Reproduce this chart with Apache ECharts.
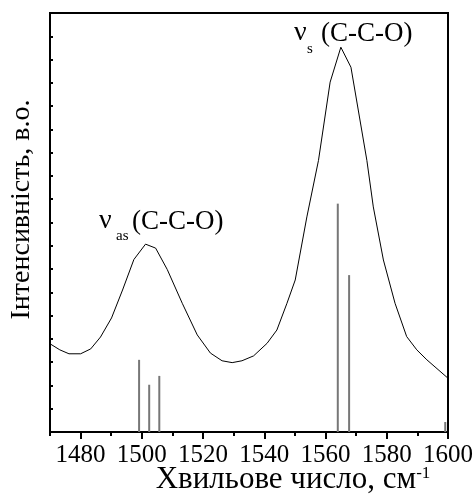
<!DOCTYPE html>
<html>
<head>
<meta charset="utf-8">
<script src="https://cdn.jsdelivr.net/npm/echarts@6/dist/echarts.min.js"></script>
<style>html,body{margin:0;padding:0;background:#fff}#c{width:475px;height:497px}</style>
</head>
<body>
<div id="c"></div>
<script>
// Spectrum curve (wavenumber, intensity)
var waveNumbers = [1470.0,1473.2,1476.2,1480.0,1483.3,1486.5,1490.1,1493.7,1497.4,1501.2,1504.5,1508.3,1513.2,1518.1,1522.4,1526.2,1529.5,1532.7,1536.5,1540.9,1544.1,1547.4,1550.1,1553.9,1557.7,1561.5,1565.0,1568.3,1573.5,1575.6,1578.9,1582.7,1586.5,1589.8,1593.1,1600.0];
var intensities = [3.79,3.53,3.36,3.36,3.57,4.08,4.90,6.10,7.41,8.07,7.90,6.98,5.53,4.17,3.39,3.06,2.98,3.06,3.27,3.81,4.38,5.53,6.53,9.24,11.67,15.03,16.53,15.67,11.67,9.67,7.39,5.53,4.10,3.53,3.10,2.31];
// Calculated lines (position, height)
var stickPositions = [1499.1,1502.4,1505.7,1564.0,1567.7,1599.1];
var stickHeights = [3.10,2.03,2.41,9.81,6.74,0.43];
// Tick labels
var majorTicks = [1480,1500,1520,1540,1560,1580,1600];
var minorTicks = [1470,1490,1510,1530,1550,1570,1590];

var curveData = waveNumbers.map(function(x,i){return [x,intensities[i]];});
var stickData = stickPositions.map(function(x,i){return [x,stickHeights[i]];});

var FONT = 'Liberation Serif';
var chart = echarts.init(document.getElementById('c'));
chart.setOption({
  animation:false,
  backgroundColor:'#fff',
  grid:{left:50,right:27,top:13,bottom:65,show:true,borderColor:'#000',borderWidth:2,backgroundColor:'transparent',
    containLabel:false,outerBoundsMode:'none'},
  xAxis:[{
    type:'value',min:1470,max:1600,interval:10,
    axisLine:{show:true,lineStyle:{color:'#000',width:2}},
    axisTick:{show:true,customValues:majorTicks,length:7,inside:false,lineStyle:{color:'#000',width:2}},
    axisLabel:{customValues:majorTicks,fontFamily:FONT,fontSize:25,color:'#000',margin:11,
      formatter:function(v){return String(v);}},
    splitLine:{show:false},
    name:'{a|Хвильове число, см}{s|-1}',
    nameLocation:'middle',nameGap:33,nameMoveOverlap:false,
    nameTextStyle:{fontFamily:FONT,fontSize:31,color:'#000',padding:[0,0,0,88],verticalAlign:'top',lineHeight:30,
      rich:{a:{fontFamily:FONT,fontSize:31,color:'#000',lineHeight:30},s:{fontFamily:FONT,fontSize:17,color:'#000',lineHeight:30,verticalAlign:'top'}}}
  },{
    type:'value',min:1470,max:1600,interval:10,position:'bottom',
    axisLine:{show:false},
    axisTick:{show:true,customValues:minorTicks,length:4,lineStyle:{color:'#000',width:2}},
    axisLabel:{show:false},splitLine:{show:false}
  }],
  yAxis:[{
    type:'value',min:0,max:18,interval:1,
    axisLine:{show:true,lineStyle:{color:'#000',width:2}},
    axisTick:{show:true,inside:true,length:3,lineStyle:{color:'#000',width:2}},
    axisLabel:{show:false},splitLine:{show:false},
    name:'Інтенсивність, в.о.',nameLocation:'middle',nameGap:14,nameMoveOverlap:false,
    nameTextStyle:{fontFamily:FONT,fontSize:28,color:'#000',padding:[0,0,0,26]}
  }],
  series:[{
    type:'line',data:curveData,xAxisIndex:0,yAxisIndex:0,
    showSymbol:false,symbol:'none',smooth:false,
    lineStyle:{color:'#000',width:1},z:3
  },{
    type:'bar',data:stickData,xAxisIndex:0,yAxisIndex:0,
    barWidth:2,itemStyle:{color:'#777'},z:2
  }],
  graphic:[
    {type:'text',x:99,y:221,style:{text:'ν',fontFamily:FONT,fontSize:28,fill:'#000',align:'left',verticalAlign:'middle'}},
    {type:'text',x:116,y:236,style:{text:'as',fontFamily:FONT,fontSize:15,fill:'#000',align:'left',verticalAlign:'middle'}},
    {type:'text',x:132,y:222,style:{text:'(C-C-O)',fontFamily:FONT,fontSize:27,fill:'#000',align:'left',verticalAlign:'middle'}},
    {type:'text',x:294,y:33,style:{text:'ν',fontFamily:FONT,fontSize:28,fill:'#000',align:'left',verticalAlign:'middle'}},
    {type:'text',x:307,y:49,style:{text:'s',fontFamily:FONT,fontSize:15,fill:'#000',align:'left',verticalAlign:'middle'}},
    {type:'text',x:321,y:34,style:{text:'(C-C-O)',fontFamily:FONT,fontSize:27,fill:'#000',align:'left',verticalAlign:'middle'}}
  ]
});
</script>
</body>
</html>
